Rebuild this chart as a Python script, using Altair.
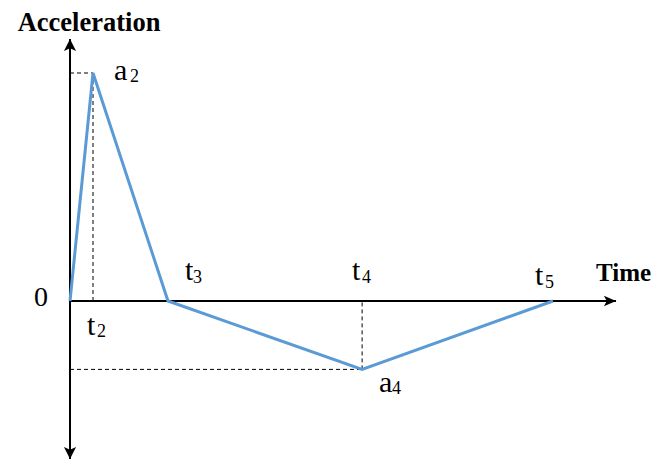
import altair as alt
import pandas as pd

# Profile vertices (time, acceleration)
times = [0.0, 1.0, 4.26, 12.7, 21.0]
accels = [0.0, 10.0, 0.0, -3.0, 0.0]
t0, t2, t3, t4, t5 = times
a2 = accels[1]
a4 = accels[3]

# Axis extents (arrow tips)
x_axis_end = 23.74
y_axis_top = 11.49
y_axis_bottom = -6.93

X_DOMAIN = [-2.696, 25.26]
Y_DOMAIN = [-6.974, 12.851]

SERIF = "Liberation Serif"

def X(field="t"):
    return alt.X(f"{field}:Q", scale=alt.Scale(domain=X_DOMAIN, nice=False, zero=False), axis=None)

def Y(field="a"):
    return alt.Y(f"{field}:Q", scale=alt.Scale(domain=Y_DOMAIN, nice=False, zero=False), axis=None)

profile = pd.DataFrame({"t": times, "a": accels, "order": list(range(len(times)))})

line = alt.Chart(profile).mark_line(color="#5B9BD5", strokeWidth=3, strokeJoin="miter").encode(
    x=X(), y=Y(), order="order:O"
)

dash_df = pd.DataFrame({
    "t": [t0, t2, t4, t0],
    "t2": [t2, t2, t4, t4],
    "a": [a2, 0.0, a4, a4],
    "a2": [a2, a2, 0.0, a4],
})
dashes = alt.Chart(dash_df).mark_rule(color="black", strokeWidth=1, strokeDash=[4, 3]).encode(
    x=X(), x2="t2:Q", y=Y(), y2="a2:Q"
)

axes_df = pd.DataFrame({
    "t": [0.0, 0.0],
    "t2": [x_axis_end, 0.0],
    "a": [0.0, y_axis_bottom],
    "a2": [0.0, y_axis_top],
})
axes = alt.Chart(axes_df).mark_rule(color="black", strokeWidth=2).encode(
    x=X(), x2="t2:Q", y=Y(), y2="a2:Q"
)

UP = "M0,0 L0.93,1.86 L0,1.43 L-0.93,1.86 Z"
DOWN = "M0,0 L0.93,-1.86 L0,-1.43 L-0.93,-1.86 Z"
RIGHT = "M0,0 L-1.86,-0.8 L-1.43,0 L-1.86,0.8 Z"

def arrow(t, a, shape):
    df = pd.DataFrame({"t": [t], "a": [a]})
    return alt.Chart(df).mark_point(shape=shape, size=169, filled=True, color="black", opacity=1).encode(
        x=X(), y=Y()
    )

arrows = [arrow(0.0, y_axis_top, UP), arrow(0.0, y_axis_bottom, DOWN), arrow(x_axis_end, 0.0, RIGHT)]

def label(txt, t, a, dx, dy, size, align="left", weight="normal"):
    df = pd.DataFrame({"t": [t], "a": [a], "txt": [txt]})
    return alt.Chart(df).mark_text(
        dx=dx, dy=dy, fontSize=size, font=SERIF, align=align, baseline="alphabetic",
        fontWeight=weight, color="black"
    ).encode(x=X(), y=Y(), text="txt:N")

MAIN = 30
SUB = 18
labels = [
    label("Acceleration", 0.0, y_axis_top, 19, -8, 26.5, align="center", weight="bold"),
    label("Time", x_axis_end, 0.0, -20, -20, 25, weight="bold"),
    label("0", 0.0, 0.0, -22, 5, 28, align="right"),
    label("a", t2, a2, 21, 7, MAIN), label("2", t2, a2, 37, 9, SUB),
    label("t", t2, 0.0, -6, 34, MAIN), label("2", t2, 0.0, 4, 36, SUB),
    label("t", t3, 0.0, 17, -21, MAIN), label("3", t3, 0.0, 25, -18, SUB),
    label("t", t4, 0.0, -10, -21, MAIN), label("4", t4, 0.0, 0, -18, SUB),
    label("t", t5, 0.0, -18, -16, MAIN), label("5", t5, 0.0, -8, -13, SUB),
    label("a", t4, a4, 17, 23, MAIN), label("4", t4, a4, 30, 25, SUB),
]

chart = alt.layer(dashes, axes, line, *arrows, *labels).properties(
    width=643, height=452, autosize=alt.AutoSizeParams(type="none"), padding=0,
    background="white"
).configure_view(stroke=None)

chart.save("out.html", embed_options={"renderer": "svg", "actions": False})
